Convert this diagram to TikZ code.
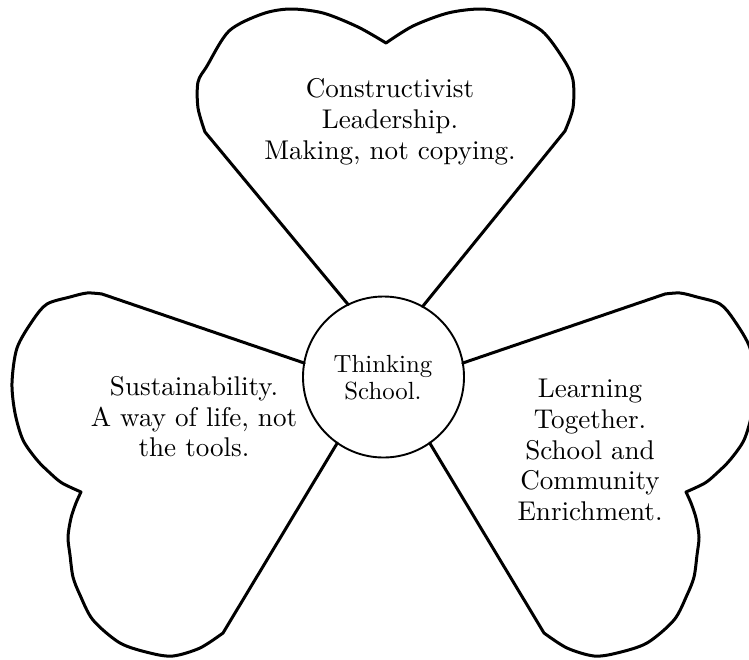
\documentclass[tikz,border=0pt]{standalone}
\usepackage{graphicx}
\newcommand\petaltext[1]{\scalebox{2.71}{\fontsize{10}{11.35}\selectfont\begin{tabular}{@{}c@{}}#1\end{tabular}}}
\newcommand\hubtext[1]{\scalebox{2.48}{\fontsize{10}{10.9}\selectfont\begin{tabular}{@{}c@{}}#1\end{tabular}}}
\begin{document}
\begin{tikzpicture}[x=1pt,y=-1pt,
  petal/.style={line width=3pt, line join=round, line cap=round},
  hub/.style={circle, draw, line width=1.9pt, minimum size=161pt, inner sep=0pt, outer sep=0pt},
  words/.style={inner sep=0pt, outer sep=0pt}]
\useasboundingbox (0,0) rectangle (749,659);
\clip (0,0) rectangle (749,659);
\node[hub] (c) at (383.5,377) {};
% top petal
\draw[petal] (c.116) -- plot[smooth, tension=0.5] coordinates {(205,132) (198,108) (198,82) (207,66) (229,31) (262,14) (290,9) (323,13) (358,27) (386,43)}
  -- plot[smooth, tension=0.5] coordinates {(386,43) (413,26) (448,13) (481,9) (509,14) (542,31) (564,60) (573,80) (573,108) (565,131)} -- (c.61);
% left petal
\draw[petal] (c.170) -- plot[smooth, tension=0.5] coordinates {(102,294) (87,293) (70,297) (47,304) (33,320) (17,348) (12,383) (15,413) (23,440) (37,460) (50,473) (62,483) (81,492)}
  -- plot[smooth, tension=0.5] coordinates {(81,492) (76,503) (71,518) (68,537) (70,555) (73,577) (80,595) (93,620) (120,643) (150,653) (173,656) (200,648) (223,633)} -- (c.235);
% right petal
\draw[petal] (c.10) -- plot[smooth, tension=0.5] coordinates {(665,294) (680,293) (697,297) (720,304) (734,320) (750,348) (755,383) (752,413) (744,440) (730,460) (717,473) (705,483) (686,492)}
  -- plot[smooth, tension=0.5] coordinates {(686,492) (691,503) (696,518) (699,537) (697,555) (694,577) (687,595) (674,620) (647,643) (617,653) (594,656) (567,648) (544,633)} -- (c.-55);
% texts
\node[words] (t1) at (390,122.4) {\petaltext{Constructivist\\Leadership.\\Making, not copying.}};
\node[words] (t2) at (194,420) {\petaltext{Sustainability.\\A way of life, not\\the tools.}};
\node[words] (t3) at (590,453) {\petaltext{Learning\\Together.\\School and\\Community\\Enrichment.}};
\node[words] (t4) at (383,381) {\hubtext{Thinking\\School.}};
\end{tikzpicture}
\end{document}
